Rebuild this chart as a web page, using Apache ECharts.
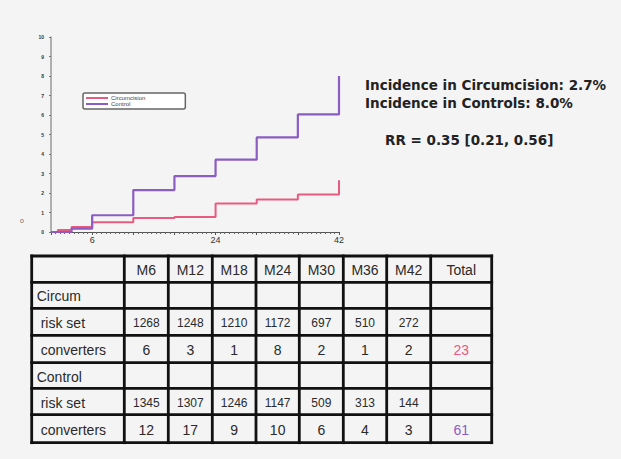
<!DOCTYPE html>
<html><head><meta charset="utf-8">
<script src="https://cdn.jsdelivr.net/npm/echarts@6/dist/echarts.min.js"></script>
<style>html,body{margin:0;padding:0;background:#f4f4f4}#c{width:621px;height:459px}</style>
</head><body><div id="c"></div>
<script>
// ---- data ----
const circumX = [0, 1, 3, 6, 12, 18, 24, 30, 36, 42];
const circumY = [0, 0.1, 0.26, 0.5, 0.72, 0.77, 1.46, 1.67, 1.92, 2.65];
const controlX = [0, 3, 6, 12, 18, 24, 30, 36, 42];
const controlY = [0, 0.17, 0.86, 2.15, 2.87, 3.71, 4.85, 6.03, 8.0];
const xTickLabels = [6, 24, 42];
const seriesNames = ['Circumcision', 'Control'];

const tableHeader = ['', 'M6', 'M12', 'M18', 'M24', 'M30', 'M36', 'M42', 'Total'];
const rowLabels = ['Circum', ' risk set', ' converters', 'Control', ' risk set', ' converters'];
const circumRisk = [1268, 1248, 1210, 1172, 697, 510, 272];
const circumConv = [6, 3, 1, 8, 2, 1, 2];
const circumTotal = 23;
const controlRisk = [1345, 1307, 1246, 1147, 509, 313, 144];
const controlConv = [12, 17, 9, 10, 6, 4, 3];
const controlTotal = 61;

const infoLines = ['Incidence in Circumcision: 2.7%', 'Incidence in Controls: 8.0%', 'RR = 0.35 [0.21, 0.56]'];

// ---- layout / style ----
const RED = '#e95a80', PURPLE = '#8a5cc4';
const colEdges = [31.7, 124.3, 168.3, 212.3, 256, 299.3, 343.3, 386.7, 430.7, 491.7];
const rowEdges = [256, 282.3, 308.3, 335.3, 362.7, 388.3, 414.7, 442.7];

const tableRows = [
  tableHeader,
  [rowLabels[0], '', '', '', '', '', '', '', ''],
  [rowLabels[1]].concat(circumRisk.map(String), ['']),
  [rowLabels[2]].concat(circumConv.map(String), [String(circumTotal)]),
  [rowLabels[3], '', '', '', '', '', '', '', ''],
  [rowLabels[4]].concat(controlRisk.map(String), ['']),
  [rowLabels[5]].concat(controlConv.map(String), [String(controlTotal)])
];
const rowFont = [14, 14, 12, 14, 14, 12, 14];

const g = [];
const L = colEdges[0], R = colEdges[colEdges.length - 1];
const T = rowEdges[0], B = rowEdges[rowEdges.length - 1];
rowEdges.forEach(y => g.push({type: 'line', shape: {x1: L - 1.4, y1: y, x2: R + 1.4, y2: y}, style: {stroke: '#111', lineWidth: 2.8}}));
colEdges.forEach(x => g.push({type: 'line', shape: {x1: x, y1: T - 1.4, x2: x, y2: B + 1.4}, style: {stroke: '#111', lineWidth: 2.8}}));
tableRows.forEach((row, r) => {
  const cy = (rowEdges[r] + rowEdges[r + 1]) / 2 + 1;
  row.forEach((txt, c) => {
    if (!txt) return;
    let fill = '#2a2a2a';
    if (r === 3 && c === 8) fill = RED;
    if (r === 6 && c === 8) fill = PURPLE;
    const fs = c === 0 ? 14 : rowFont[r];
    const isLeft = c === 0;
    const x = isLeft ? colEdges[0] + (txt.startsWith(' ') ? 9 : 5) : (colEdges[c] + colEdges[c + 1]) / 2;
    g.push({type: 'text', x: x, y: cy, style: {
      text: txt.trim(), font: fs + 'px "Liberation Sans", Arial, sans-serif', fill: fill,
      textAlign: isLeft ? 'left' : 'center', textVerticalAlign: 'middle',
      align: isLeft ? 'left' : 'center', verticalAlign: 'middle'}});
  });
});
const infoPos = [[365, 85], [365, 103], [385, 140]];
infoLines.forEach((t, i) => g.push({type: 'text', x: infoPos[i][0], y: infoPos[i][1], style: {
  text: t, font: 'bold 13.5px "DejaVu Sans", sans-serif', fill: '#222',
  textAlign: 'left', textVerticalAlign: 'middle', align: 'left', verticalAlign: 'middle'}}));
g.push({type: 'text', x: 22, y: 221, style: {text: 'o', font: '7px "DejaVu Sans"', fill: '#777',
  textAlign: 'center', textVerticalAlign: 'middle', align: 'center', verticalAlign: 'middle'}});

const chart = echarts.init(document.getElementById('c'), null, {renderer: 'svg'});
chart.setOption({
  backgroundColor: '#f4f4f4',
  animation: false,
  grid: {left: 51, right: 282, top: 37, bottom: 227},
  legend: {
    data: seriesNames, left: 83, top: 93, orient: 'vertical', itemGap: 0,
    itemWidth: 22, itemHeight: 2, icon: 'rect',
    textStyle: {fontSize: 6, color: '#444', padding: [0, 0, 0, -2]},
    backgroundColor: '#ffffff', borderColor: '#666', borderWidth: 1.5, borderRadius: 2,
    padding: [2, 40, 2, 3]
  },
  xAxis: {
    type: 'value', min: 0, max: 42, interval: 6,
    axisLine: {lineStyle: {color: '#555', width: 1}},
    axisTick: {show: true, length: 3, lineStyle: {color: '#555'}},
    minorTick: {show: true, splitNumber: 9, length: 2, lineStyle: {color: '#666'}},
    splitLine: {show: false},
    axisLabel: {fontSize: 9, color: '#333', margin: 3,
      formatter: v => xTickLabels.indexOf(v) >= 0 ? String(v) : ''}
  },
  yAxis: {
    type: 'value', min: 0, max: 10, interval: 1,
    axisLine: {show: true, lineStyle: {color: '#999', width: 1.5}},
    axisTick: {show: true, length: 2, lineStyle: {color: '#777'}},
    splitLine: {show: false},
    axisLabel: {fontSize: 5, color: '#333', margin: 7, fontWeight: 'bold'}
  },
  series: [
    {name: seriesNames[0], type: 'line', step: 'end', showSymbol: false,
     data: circumX.map((x, i) => [x, circumY[i]]),
     lineStyle: {color: RED, width: 2}, itemStyle: {color: RED}},
    {name: seriesNames[1], type: 'line', step: 'end', showSymbol: false,
     data: controlX.map((x, i) => [x, controlY[i]]),
     lineStyle: {color: PURPLE, width: 2.2}, itemStyle: {color: PURPLE}}
  ],
  graphic: g
});
</script></body></html>
